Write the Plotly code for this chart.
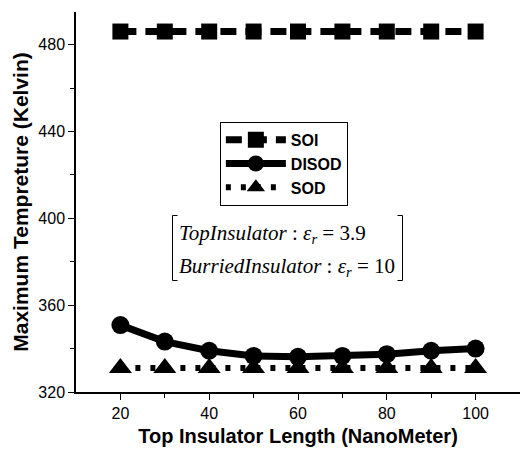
import plotly.graph_objects as go

x_len = [20, 30, 40, 50, 60, 70, 80, 90, 100]
soi = [486, 486, 486, 486, 486, 486, 486, 486, 486]
disod = [350.8, 343.2, 339.0, 336.6, 336.2, 336.6, 337.4, 339.0, 340.0]
sod = [331, 331, 331, 331, 331, 331, 331, 331, 331]
names = ["SOI", "DISOD", "SOD"]

fig = go.Figure()
fig.add_trace(go.Scatter(x=x_len, y=soi, name="<b>%s</b>" % names[0], mode="lines+markers",
                         line=dict(color="black", width=7, dash="16px,9px"),
                         marker=dict(symbol="square", size=16, color="black")))
fig.add_trace(go.Scatter(x=x_len, y=disod, name="<b>%s</b>" % names[1], mode="lines+markers",
                         line=dict(color="black", width=7),
                         marker=dict(symbol="circle", size=18, color="black")))
fig.add_trace(go.Scatter(x=x_len, y=sod, name="<b>%s</b>" % names[2], mode="lines+markers",
                         line=dict(color="black", width=6, dash="5px,10px"),
                         marker=dict(symbol="triangle-up", size=20, color="black")))

axis_font = dict(family="Liberation Sans, Arial", size=16, color="black")
fig.update_layout(
    width=522, height=450,
    margin=dict(l=76, r=2, t=12, b=58),
    plot_bgcolor="white", paper_bgcolor="white",
    font=dict(family="Liberation Sans, Arial", color="black"),
    xaxis=dict(range=[10, 110], tickvals=[20, 40, 60, 80, 100],
               showline=True, linecolor="black", linewidth=1.5,
               ticks="outside", ticklen=6, tickwidth=1.2, tickcolor="black",
               minor=dict(tickvals=[30, 50, 70, 90], ticks="outside", ticklen=4, tickcolor="black"),
               showgrid=False, zeroline=False, tickfont=axis_font,
               title=dict(text="<b>Top Insulator Length (NanoMeter)</b>",
                          font=dict(family="Liberation Sans, Arial", size=20), standoff=8)),
    yaxis=dict(range=[320, 495], tickvals=[320, 360, 400, 440, 480],
               showline=True, linecolor="black", linewidth=1.5,
               ticks="outside", ticklen=6, tickwidth=1.2, tickcolor="black",
               minor=dict(tickvals=[340, 380, 420, 460], ticks="outside", ticklen=4, tickcolor="black"),
               showgrid=False, zeroline=False, tickfont=axis_font,
               title=dict(text="<b>Maximum Tempreture (Kelvin)</b>",
                          font=dict(family="Liberation Sans, Arial", size=21), standoff=4)),
    legend=dict(x=0.324, y=0.711, xanchor="left", yanchor="top",
                bordercolor="black", borderwidth=1, bgcolor="white",
                font=dict(family="Liberation Sans, Arial", size=16, color="black"),
                itemwidth=60, tracegroupgap=0),
    showlegend=True,
)

# annotation text
serif = dict(family="Liberation Serif, Times New Roman", size=21, color="black")
fig.add_annotation(xref="paper", yref="paper", x=0.228, y=0.415, xanchor="left", yanchor="middle",
                   showarrow=False, font=serif,
                   text="<i>TopInsulator</i> : <i>ε<sub>r</sub></i> = 3.9")
fig.add_annotation(xref="paper", yref="paper", x=0.228, y=0.328, xanchor="left", yanchor="middle",
                   showarrow=False, font=serif,
                   text="<i>BurriedInsulator</i> : <i>ε<sub>r</sub></i> = 10")

# brackets
def px(xp):
    return (xp - 76) / 444
def py(yp):
    return (392 - yp) / 380
L, R, T, B = 172.5, 402.5, 215.5, 280.5
for x0, x1 in [(L, L + 5), (R, R - 5)]:
    fig.add_shape(type="path", xref="paper", yref="paper",
                  path="M %f,%f L %f,%f L %f,%f L %f,%f" % (px(x1), py(T), px(x0), py(T),
                                                          px(x0), py(B), px(x1), py(B)),
                  line=dict(color="black", width=1))

fig.write_html("out.html")
